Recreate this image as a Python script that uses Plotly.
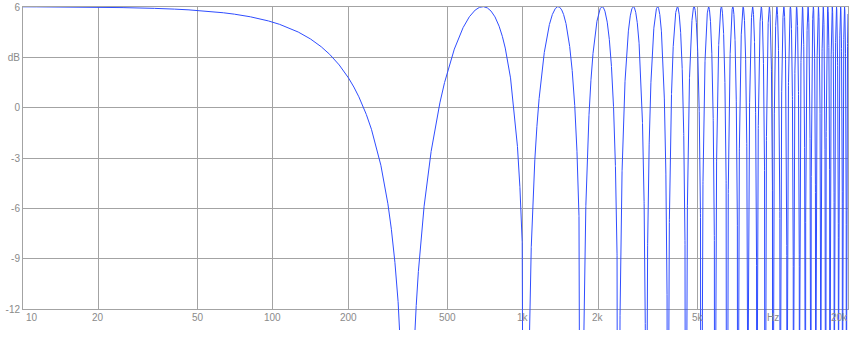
import numpy as np
import plotly.graph_objects as go

# Values: a comb-filter response (direct + equal delayed copy)
# first notch ~346 Hz, first peak ~692 Hz, peak level ~ +6.02 dB
delay_ms = 1.445
peak_gain_lin = 2.0

x_tick_vals = [10, 20, 50, 100, 200, 500, 1000, 2000, 5000, 10000, 20000]
x_tick_text = ["10", "20", "50", "100", "200", "500", "1k", "2k", "5k", "Hz", "20k"]
y_tick_vals = [6, 3, 0, -3, -6, -9, -12]
y_tick_text = ["6", "dB", "0", "-3", "-6", "-9", "-12"]

freqs = np.logspace(1, np.log10(20000), 30000)
mag = np.abs(peak_gain_lin * np.cos(np.pi * freqs * delay_ms / 1000.0))
db = 20 * np.log10(np.maximum(mag, 1e-6))

W, H = 864, 343
L, R, T, B = 23, 16, 7, 13
plot_h = H - T - B  # 323
px_per_db = (309 - 7) / 18.0
y2_min = -12 - (330 - 309) / px_per_db
grid_frac = (330 - 309) / plot_h

grid_col = "#a3a3a3"
lab_col = "#8a8a8a"
font = dict(family="Liberation Sans, Arial, sans-serif", size=10, color=lab_col)

fig = go.Figure()
fig.add_trace(go.Scatter(x=freqs, y=db, mode="lines", xaxis="x2", yaxis="y2",
                         line=dict(color="#2f4dff", width=1), hoverinfo="skip",
                         showlegend=False))

xr = [1, np.log10(20000)]
fig.update_layout(
    width=W, height=H,
    margin=dict(l=L, r=R, t=T, b=B, autoexpand=False),
    paper_bgcolor="white", plot_bgcolor="rgba(0,0,0,0)",
    showlegend=False,
    xaxis=dict(type="log", range=xr, domain=[0, 1], anchor="y",
               tickvals=x_tick_vals, showticklabels=False, ticks="",
               showgrid=True, gridcolor=grid_col, gridwidth=1, automargin=False,
               showline=True, linecolor=grid_col, mirror=True, zeroline=False),
    yaxis=dict(range=[-12, 6], domain=[grid_frac, 1], anchor="x",
               tickvals=y_tick_vals, ticktext=y_tick_text, ticks="",
               tickfont=font, showgrid=True, gridcolor=grid_col, gridwidth=1,
               automargin=False,
               showline=True, linecolor=grid_col, mirror=True, zeroline=False),
    xaxis2=dict(type="log", range=xr, domain=[0, 1], anchor="y2", visible=False,
                automargin=False),
    yaxis2=dict(range=[y2_min, 6], domain=[0, 1], anchor="x2", visible=False,
                automargin=False),
)

annotations = []
for v, t in zip(x_tick_vals, x_tick_text):
    if v == 10:
        xanchor, xs = "left", 1
    elif v == 20000:
        xanchor, xs = "right", 2
    else:
        xanchor, xs = "center", 0
    annotations.append(dict(x=np.log10(v), y=-12, xref="x", yref="y", text=t,
                            showarrow=False, xanchor=xanchor, yanchor="top",
                            xshift=xs, yshift=-1, font=font))
fig.update_layout(annotations=annotations)

fig.write_html("out.html")
